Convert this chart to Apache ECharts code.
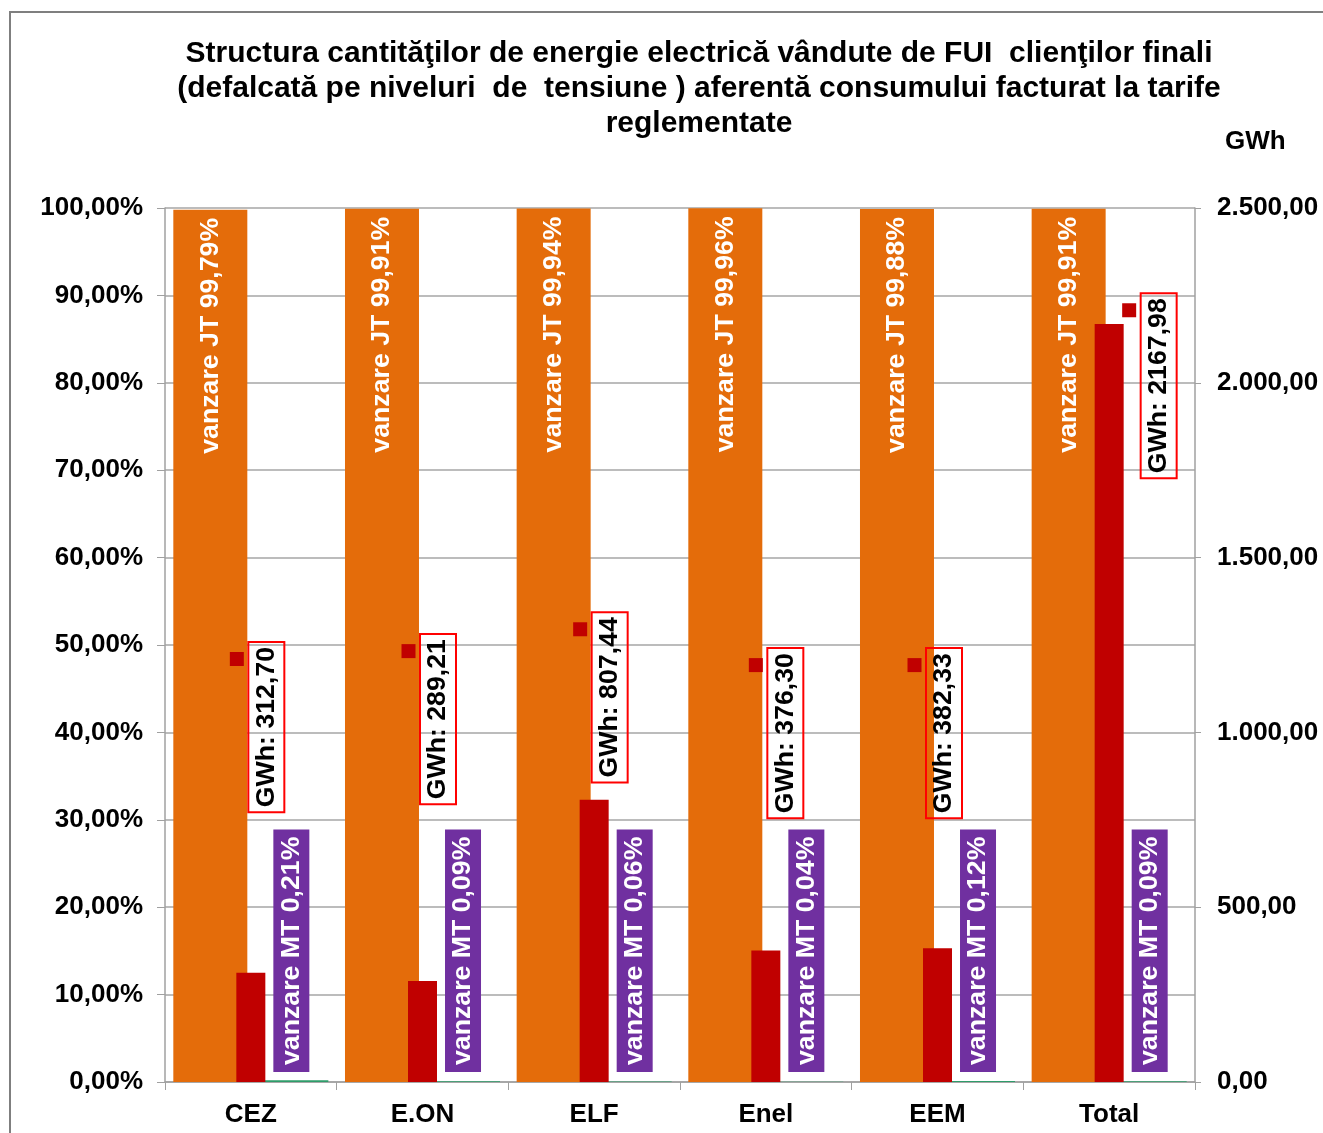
<!DOCTYPE html>
<html>
<head>
<meta charset="utf-8">
<script src="https://cdn.jsdelivr.net/npm/echarts@6/dist/echarts.min.js"></script>
<style>
  html, body { margin: 0; padding: 0; background: #fff; }
  #frame { position: absolute; left: 9px; top: 11px; width: 1330px; height: 1140px; border-left: 2px solid #7f7f7f; border-top: 2px solid #7f7f7f; }
  #chart { position: absolute; left: 0; top: 0; width: 1323px; height: 1133px; }
</style>
</head>
<body>
<div id="frame"></div>
<div id="chart"></div>
<script>
// ---- data ----
const categories = ['CEZ', 'E.ON', 'ELF', 'Enel', 'EEM', 'Total'];
const jtPercent = [99.79, 99.91, 99.94, 99.96, 99.88, 99.91];
const mtPercent = [0.21, 0.09, 0.06, 0.04, 0.12, 0.09];
const gwhValues = [312.70, 289.21, 807.44, 376.30, 382.33, 2167.98];
const leftTicks = { min: 0, max: 100, interval: 10 };
const rightTicks = { min: 0, max: 2500, interval: 500 };

// ---- label placement (manual Excel label positions, left-axis units + pixel nudge) ----
const gwhLabelAnchorPct = [48.4, 49.3, 51.8, 47.7, 47.7, 88.3];
const gwhLabelDx = [-14, -14, -14, -10, -23, 20];

const FONT = '"Liberation Sans", Arial, sans-serif';
const LBL = 26.7;
const fmt2 = v => v.toFixed(2).replace('.', ',');
const fmtThousands = v => {
  const parts = v.toFixed(2).split('.');
  parts[0] = parts[0].replace(/\B(?=(\d{3})+(?!\d))/g, '.');
  return parts[0] + ',' + parts[1];
};

const chart = echarts.init(document.getElementById('chart'), null, { renderer: 'canvas' });

const option = {
  backgroundColor: 'transparent',
  animation: false,
  title: {
    text: 'Structura cantităţilor de energie electrică vândute de FUI  clienţilor finali\n(defalcată pe niveluri  de  tensiune ) aferentă consumului facturat la tarife\nreglementate',
    left: 694,
    top: 31,
    textAlign: 'center',
    textStyle: { fontFamily: FONT, fontWeight: 'bold', fontSize: 30, lineHeight: 35, color: '#000' }
  },
  grid: { left: 165, right: 128, top: 208, bottom: 51, containLabel: false },
  xAxis: [
    {
      type: 'category',
      data: categories,
      axisLine: { lineStyle: { color: '#a0a0a0', width: 1.5 } },
      axisTick: { show: true, length: 8, lineStyle: { color: '#a0a0a0' } },
      axisLabel: { fontFamily: FONT, fontWeight: 'bold', fontSize: 26, color: '#000', margin: 20 }
    },
    {
      type: 'category',
      data: categories,
      show: false
    }
  ],
  yAxis: [
    {
      type: 'value',
      min: leftTicks.min, max: leftTicks.max, interval: leftTicks.interval,
      axisLine: { show: true, lineStyle: { color: '#a0a0a0', width: 1.5 } },
      axisTick: { show: true, length: 8, lineStyle: { color: '#a0a0a0' } },
      splitLine: { show: true, lineStyle: { color: '#a6a6a6', width: 1.5 } },
      axisLabel: { fontFamily: FONT, fontWeight: 'bold', fontSize: 26, color: '#000', margin: 22, formatter: v => fmt2(v) + '%' }
    },
    {
      type: 'value',
      min: rightTicks.min, max: rightTicks.max, interval: rightTicks.interval,
      name: 'GWh',
      nameLocation: 'end',
      nameGap: 53,
      nameTextStyle: { fontFamily: FONT, fontWeight: 'bold', fontSize: 26, color: '#000', align: 'left', padding: [0, 0, 0, 30] },
      axisLine: { show: true, lineStyle: { color: '#a0a0a0', width: 1.5 } },
      axisTick: { show: true, length: 6, lineStyle: { color: '#a0a0a0' } },
      splitLine: { show: false },
      axisLabel: { fontFamily: FONT, fontWeight: 'bold', fontSize: 26, color: '#000', margin: 22, formatter: v => fmtThousands(v) }
    }
  ],
  series: [
    {
      name: 'vanzare JT',
      type: 'bar',
      xAxisIndex: 0, yAxisIndex: 0,
      data: jtPercent,
      barWidth: 74,
      barGap: '9.5%',
      itemStyle: { color: '#E46C0A' },
      z: 2,
      label: {
        show: true, position: 'insideTop', rotate: 90, align: 'right', verticalAlign: 'middle', distance: 8,
        fontFamily: FONT, fontWeight: 'bold', fontSize: LBL, color: '#fff',
        formatter: p => 'vanzare JT ' + fmt2(p.value) + '%'
      }
    },
    {
      name: 'vanzare MT',
      type: 'bar',
      xAxisIndex: 0, yAxisIndex: 0,
      data: mtPercent,
      barWidth: 74,
      barGap: '9.5%',
      itemStyle: { color: '#2E9C6A' },
      z: 2,
      label: {
        show: true, position: 'insideBottom', rotate: 90, align: 'left', verticalAlign: 'middle', distance: 10,
        offset: [0, 0],
        fontFamily: FONT, fontWeight: 'bold', fontSize: LBL, lineHeight: 26, color: '#fff',
        backgroundColor: '#7030A0', padding: [5, 7, 5, 7],
        formatter: p => 'vanzare MT ' + fmt2(p.value) + '%'
      }
    },
    {
      name: 'GWh',
      type: 'bar',
      xAxisIndex: 1, yAxisIndex: 1,
      data: gwhValues,
      barWidth: 29,
      itemStyle: { color: '#C00000' },
      z: 3
    },
    {
      name: 'GWh labels',
      type: 'custom',
      coordinateSystem: 'cartesian2d',
      xAxisIndex: 0, yAxisIndex: 0,
      z: 5,
      clip: false,
      data: gwhLabelAnchorPct.map((v, i) => [i, v]),
      renderItem: function (params, api) {
        const i = params.dataIndex;
        const p = api.coord([api.value(0), api.value(1)]);
        const kx = p[0] + gwhLabelDx[i];
        const ky = p[1];
        return {
          type: 'group',
          children: [
            { type: 'rect', shape: { x: kx - 7, y: ky - 7, width: 14, height: 14 }, style: { fill: '#C00000' } },
            {
              type: 'text',
              x: kx + 29.5, y: ky - 17,
              rotation: Math.PI / 2,
              style: {
                text: 'GWh: ' + fmt2(gwhValues[i]),
                font: 'bold ' + LBL + 'px ' + FONT,
                fill: '#000',
                align: 'right', verticalAlign: 'middle',
                lineHeight: 26,
                borderColor: '#FF0000', borderWidth: 1,
                backgroundColor: 'rgba(255,255,255,0)',
                padding: [5, 5, 5, 5]
              }
            }
          ]
        };
      }
    }
  ]
};

chart.setOption(option);
</script>
</body>
</html>
